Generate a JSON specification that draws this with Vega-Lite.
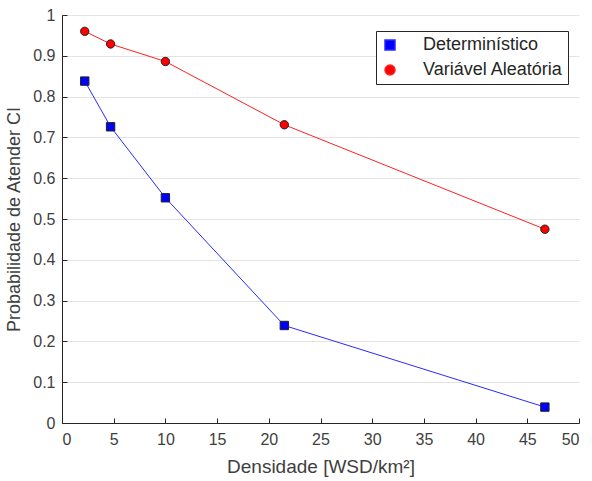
{
  "$schema": "https://vega.github.io/schema/vega-lite/v6.json",
  "width": 517,
  "height": 408,
  "autosize": {"type": "none"},
  "padding": {"left": 62, "top": 15, "right": 13, "bottom": 58},
  "background": "white",
  "config": {
    "view": {"stroke": null},
    "font": "Liberation Sans",
    "axis": {
      "labelFont": "Liberation Sans",
      "titleFont": "Liberation Sans",
      "labelColor": "#404040",
      "titleColor": "#404040",
      "domainColor": "#262626",
      "tickColor": "#262626",
      "titleFontWeight": "normal"
    }
  },
  "data": {
    "values": [
      {"densidade": 2.2, "prob": 0.838, "serie": "Determinístico"},
      {"densidade": 4.7, "prob": 0.726, "serie": "Determinístico"},
      {"densidade": 10.0, "prob": 0.552, "serie": "Determinístico"},
      {"densidade": 21.5, "prob": 0.239, "serie": "Determinístico"},
      {"densidade": 46.7, "prob": 0.039, "serie": "Determinístico"},
      {"densidade": 2.2, "prob": 0.960, "serie": "Variável Aleatória"},
      {"densidade": 4.7, "prob": 0.929, "serie": "Variável Aleatória"},
      {"densidade": 10.0, "prob": 0.886, "serie": "Variável Aleatória"},
      {"densidade": 21.5, "prob": 0.731, "serie": "Variável Aleatória"},
      {"densidade": 46.7, "prob": 0.475, "serie": "Variável Aleatória"}
    ]
  },
  "encoding": {
    "x": {
      "field": "densidade",
      "type": "quantitative",
      "scale": {"domain": [0, 50], "nice": false, "zero": false},
      "axis": {
        "values": [0, 5, 10, 15, 20, 25, 30, 35, 40, 45, 50],
        "grid": false,
        "tickSize": -5,
        "labelPadding": 13,
        "labelFontSize": 16,
        "title": "Densidade [WSD/km²]",
        "titleFontSize": 19,
        "titlePadding": 10
      }
    },
    "y": {
      "field": "prob",
      "type": "quantitative",
      "scale": {"domain": [0, 1], "nice": false},
      "axis": {
        "values": [0, 0.1, 0.2, 0.3, 0.4, 0.5, 0.6, 0.7, 0.8, 0.9, 1],
        "format": "~g",
        "grid": true,
        "gridColor": "#e3e3e3",
        "tickSize": -5,
        "labelPadding": 12,
        "labelFontSize": 16,
        "title": "Probabilidade de Atender CI",
        "titleFontSize": 18,
        "titlePadding": 9
      }
    }
  },
  "layer": [
    {
      "mark": {"type": "line", "strokeWidth": 1},
      "encoding": {
        "color": {
          "field": "serie",
          "type": "nominal",
          "scale": {"domain": ["Determinístico", "Variável Aleatória"], "range": ["#2a2aff", "#ff2020"]},
          "legend": {
            "title": null,
            "orient": "none",
            "legendX": 314,
            "legendY": 16,
            "padding": 5,
            "strokeColor": "#262626",
            "fillColor": "white",
            "labelFontSize": 18,
            "labelColor": "#262626",
            "labelOffset": 24,
            "rowPadding": 7,
            "symbolSize": 100
          }
        }
      }
    },
    {
      "mark": {"type": "point", "filled": true, "size": 70, "stroke": "#222222", "strokeWidth": 1, "opacity": 1},
      "encoding": {
        "shape": {
          "field": "serie",
          "type": "nominal",
          "scale": {"domain": ["Determinístico", "Variável Aleatória"], "range": ["square", "circle"]},
          "legend": null
        },
        "fill": {
          "field": "serie",
          "type": "nominal",
          "scale": {"domain": ["Determinístico", "Variável Aleatória"], "range": ["#0000ff", "#ff0000"]},
          "legend": null
        }
      }
    }
  ]
}
